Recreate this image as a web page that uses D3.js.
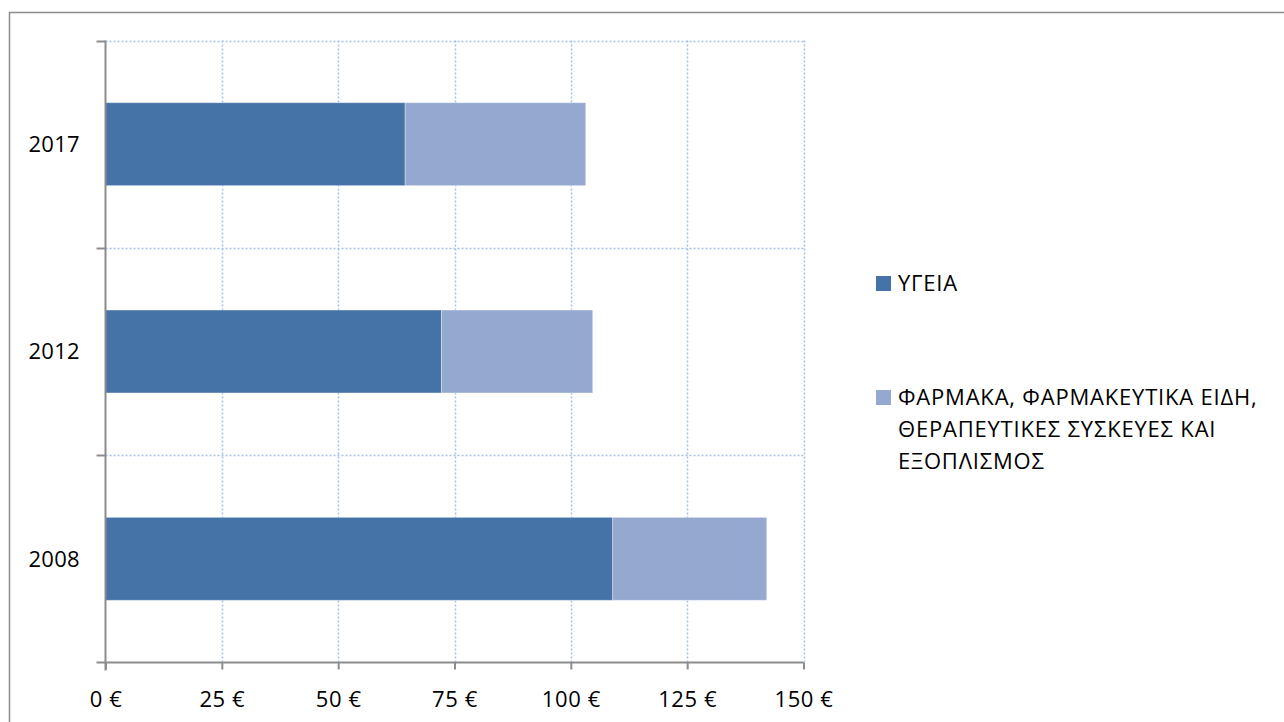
<!DOCTYPE html>
<html>
<head>
<meta charset="utf-8">
<script src="https://cdn.jsdelivr.net/npm/d3@7"></script>
<style>
  html, body { margin: 0; padding: 0; background: #fff; }
  svg { display: block; }
  text { font-family: "Open Sans", "Noto Sans", sans-serif; fill: #000; }
</style>
</head>
<body>
<svg id="chart" width="1284" height="722"></svg>
<script>
// Per-capita spending (€) by year, stacked by category
const years = ["2008", "2012", "2017"];
const health = [109.0, 72.2, 64.4];
const pharma = [33.1, 32.5, 38.8];
const seriesNames = ["ΥΓΕΙΑ", "ΦΑΡΜΑΚΑ, ΦΑΡΜΑΚΕΥΤΙΚΑ ΕΙΔΗ, ΘΕΡΑΠΕΥΤΙΚΕΣ ΣΥΣΚΕΥΕΣ ΚΑΙ ΕΞΟΠΛΙΣΜΟΣ"];
const legendLines = [["ΥΓΕΙΑ"], ["ΦΑΡΜΑΚΑ, ΦΑΡΜΑΚΕΥΤΙΚΑ ΕΙΔΗ,", "ΘΕΡΑΠΕΥΤΙΚΕΣ ΣΥΣΚΕΥΕΣ ΚΑΙ", "ΕΞΟΠΛΙΣΜΟΣ"]];
const xTicks = [0, 25, 50, 75, 100, 125, 150];
const colors = ["#4572a7", "#95a9d0"];

const svg = d3.select("#chart");

// chart frame
svg.append("rect")
  .attr("x", 9.5).attr("y", 12.5)
  .attr("width", 1300).attr("height", 730)
  .attr("fill", "none").attr("stroke", "#8c8c8c").attr("stroke-width", 1.5);

const plot = { left: 105.5, right: 803.5, top: 40.5, bottom: 662.5 };

const x = d3.scaleLinear().domain([0, 150]).range([plot.left, plot.right]);
// categories from bottom (2008) to top (2017)
const y = d3.scaleBand().domain(years.slice().reverse()).range([plot.top, plot.bottom]).paddingInner(0.6).paddingOuter(0.3);
const yEdges = d3.scaleLinear().domain([0, years.length]).range([plot.bottom, plot.top]);

const g = svg.append("g");

// dotted gridlines
const gridColor = "#a9c0e6";
g.selectAll("line.vgrid").data(xTicks.slice(1)).join("line")
  .attr("class", "vgrid")
  .attr("x1", d => Math.round(x(d)) + 0.5).attr("x2", d => Math.round(x(d)) + 0.5)
  .attr("y1", plot.top).attr("y2", plot.bottom)
  .attr("stroke", gridColor).attr("stroke-width", 1.5).attr("stroke-dasharray", "2,2");
g.selectAll("line.hgrid").data(d3.range(1, years.length + 1)).join("line")
  .attr("class", "hgrid")
  .attr("x1", plot.left).attr("x2", plot.right)
  .attr("y1", d => Math.round(yEdges(d)) + 0.5).attr("y2", d => Math.round(yEdges(d)) + 0.5)
  .attr("stroke", gridColor).attr("stroke-width", 1.5).attr("stroke-dasharray", "2,2");

// stacked bars
const rows = years.map((yr, i) => ({ year: yr, values: [health[i], pharma[i]] }));
const stack = d3.stack().keys([0, 1]).value((d, k) => d.values[k]);
const layers = stack(rows);

g.selectAll("g.layer").data(layers).join("g")
  .attr("class", "layer")
  .attr("fill", (d, i) => colors[i])
  .selectAll("rect").data(d => d).join("rect")
  .attr("x", d => x(d[0]))
  .attr("width", d => x(d[1]) - x(d[0]))
  .attr("y", d => y(d.data.year))
  .attr("height", y.bandwidth())
  .attr("stroke", "rgba(255,255,255,0.35)").attr("stroke-width", 1);

// axes
const axisColor = "#8c8c8c";
const xAxis = d3.axisBottom(x).tickValues(xTicks).tickSize(7).tickFormat(d => d + " €");
const xg = svg.append("g").attr("transform", `translate(0,${plot.bottom})`).call(xAxis);
xg.select(".domain").attr("stroke", axisColor).attr("stroke-width", 2).attr("d", `M${plot.left - 9},0H${plot.right}`);
xg.selectAll(".tick line").attr("stroke", axisColor).attr("stroke-width", 2);
xg.selectAll(".tick text").attr("font-size", 22).attr("dy", 0).attr("y", 44)
  .style("font-family", '"Open Sans", "Noto Sans", sans-serif').style("letter-spacing", "0.6px").attr("fill", "#000");

const yAxisG = svg.append("g");
yAxisG.append("line")
  .attr("x1", plot.left).attr("x2", plot.left)
  .attr("y1", plot.top).attr("y2", plot.bottom + 8)
  .attr("stroke", axisColor).attr("stroke-width", 2);
yAxisG.selectAll("line.ytick").data(d3.range(1, years.length + 1)).join("line")
  .attr("class", "ytick")
  .attr("x1", plot.left - 9).attr("x2", plot.left)
  .attr("y1", d => Math.round(yEdges(d)) + 0.5).attr("y2", d => Math.round(yEdges(d)) + 0.5)
  .attr("stroke", axisColor).attr("stroke-width", 2);
yAxisG.selectAll("text").data(years).join("text")
  .attr("x", 80).attr("y", d => y(d) + y.bandwidth() / 2)
  .attr("dy", "0.36em").attr("text-anchor", "end").attr("font-size", 22)
  .style("letter-spacing", "0.3px")
  .text(d => d);

// legend
const legend = svg.append("g");
const legendY = [283, 397];
legendLines.forEach((lines, i) => {
  legend.append("rect")
    .attr("x", 876).attr("y", legendY[i] - 7).attr("width", 15).attr("height", 15)
    .attr("fill", colors[i]);
  lines.forEach((ln, j) => {
    legend.append("text")
      .attr("x", 898).attr("y", legendY[i] + j * 32)
      .attr("dy", "0.36em").attr("font-size", 22)
      .style("letter-spacing", "0.8px")
      .text(ln);
  });
});
</script>
</body>
</html>
